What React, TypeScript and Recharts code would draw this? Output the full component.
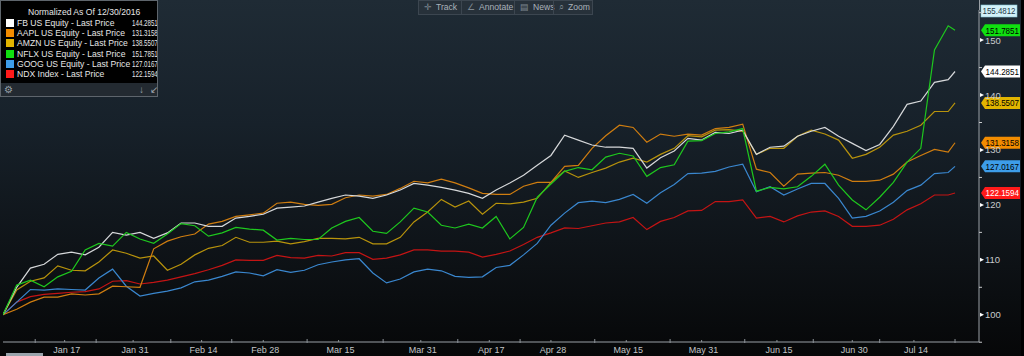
import React from "react";
import { LineChart, Line, XAxis, YAxis, ReferenceLine } from "recharts";

// trading-day index since 30 Dec 2016 (every second session)
const days = [
  0, 2, 4, 6, 8, 10, 12, 14, 16, 18, 20, 22, 24, 26, 28, 30, 32, 34, 36, 38,
  40, 42, 44, 46, 48, 50, 52, 54, 56, 58, 60, 62, 64, 66, 68, 70, 72, 74, 76, 78,
  80, 82, 84, 86, 88, 90, 92, 94, 96, 98, 100, 102, 104, 106, 108, 110, 112, 114, 116, 118,
  120, 122, 124, 126, 128, 130, 132, 134, 136, 138, 139,
];

const fb = [
  100, 105.0, 108.5, 109.2, 111.0, 111.4, 110.9, 112.3, 115.0, 114.5, 115.0, 113.9, 114.9, 116.7, 116.7, 116.1, 116.1, 117.6, 117.9, 118.3,
  119.4, 119.6, 119.8, 120.5, 121.2, 121.8, 121.6, 121.2, 121.8, 122.7, 123.9, 123.6, 123.2, 122.7, 122.1, 121.2, 122.7, 124.0, 125.4, 127.2,
  129.0, 132.7, 131.8, 130.9, 130.5, 130.5, 130.3, 126.7, 128.6, 129.8, 132.1, 131.8, 133.2, 133.0, 133.6, 129.2, 130.5, 130.7, 132.5, 133.4,
  134.1, 132.5, 131.2, 129.9, 131.0, 134.3, 138.3, 138.9, 142.3, 142.8, 144.2851,
];
const aapl = [
  100, 101.0, 102.3, 103.2, 103.2, 103.8, 103.6, 103.8, 105.2, 105.1, 105.0, 112.0, 113.4, 114.2, 114.7, 116.5, 117.0, 117.9, 118.2, 118.5,
  120.3, 120.5, 120.1, 119.9, 120.1, 121.3, 121.8, 121.6, 121.9, 123.0, 124.3, 124.0, 124.7, 124.0, 123.1, 122.1, 121.9, 121.9, 123.4, 124.1,
  124.1, 127.0, 127.2, 130.3, 132.6, 134.5, 134.1, 131.4, 132.9, 132.5, 132.9, 132.7, 133.9, 134.1, 134.7, 126.5, 125.9, 123.4, 125.6, 125.8,
  125.9, 125.4, 124.3, 124.3, 124.5, 125.6, 127.8, 129.0, 130.1, 129.6, 131.3158,
];
const amzn = [
  100, 104.5, 106.1, 106.7, 108.9, 108.1, 108.0, 109.6, 111.8, 111.2, 110.3, 110.7, 108.1, 109.2, 110.9, 112.1, 112.6, 114.1, 113.2, 113.2,
  113.4, 112.9, 113.3, 113.9, 113.9, 113.8, 114.1, 112.9, 112.9, 114.1, 116.9, 118.7, 121.0, 119.6, 120.7, 118.3, 120.3, 120.2, 120.5, 121.2,
  124.1, 126.2, 125.0, 125.9, 126.7, 127.8, 128.5, 127.8, 129.2, 130.3, 132.6, 132.4, 133.6, 133.7, 133.4, 129.2, 130.3, 130.3, 132.5, 133.6,
  132.9, 131.8, 128.5, 129.2, 130.5, 132.7, 133.4, 134.5, 137.0, 137.0, 138.5507,
];
const nflx = [
  100, 105.4, 106.3, 105.1, 106.9, 107.9, 111.8, 113.0, 112.5, 115.0, 113.8, 113.0, 114.7, 116.6, 116.2, 114.3, 114.9, 115.9, 115.6, 115.4,
  113.6, 113.9, 113.7, 113.7, 115.8, 117.0, 117.7, 115.2, 114.8, 116.9, 119.4, 118.7, 116.3, 115.8, 116.5, 115.8, 117.9, 113.8, 115.9, 121.4,
  123.8, 126.1, 126.8, 126.4, 128.7, 129.4, 128.9, 125.2, 126.8, 127.3, 131.6, 131.7, 133.0, 133.3, 133.9, 122.5, 123.2, 122.9, 123.3, 125.2,
  127.4, 123.6, 120.9, 119.1, 121.4, 124.1, 127.8, 130.3, 148.2, 152.6, 151.7851,
];
const goog = [
  100, 102.3, 104.6, 104.5, 104.7, 104.6, 104.5, 106.7, 108.3, 105.2, 103.4, 103.9, 104.3, 104.9, 106.0, 106.3, 107.0, 107.8, 107.6, 107.1,
  108.2, 107.7, 108.1, 109.1, 109.6, 110.0, 110.2, 107.6, 105.8, 106.5, 107.8, 108.3, 108.0, 107.0, 106.8, 106.9, 108.6, 109.0, 110.9, 113.0,
  116.3, 118.5, 120.4, 120.7, 120.4, 121.0, 121.9, 120.3, 122.2, 123.7, 125.7, 125.8, 126.1, 126.9, 127.4, 122.4, 123.3, 121.8, 122.9, 123.9,
  123.9, 121.2, 117.6, 117.9, 118.9, 120.5, 122.6, 123.6, 125.7, 125.9, 127.0167,
];
const ndx = [
  100, 102.3, 103.3, 103.7, 103.9, 104.1, 104.2, 104.7, 106.1, 106.2, 105.6, 105.9, 106.3, 106.9, 107.5, 108.2, 109.0, 110.0, 109.9, 109.9,
  110.8, 110.4, 110.3, 110.8, 110.7, 111.3, 111.3, 110.1, 110.3, 110.9, 111.8, 111.8, 111.6, 111.6, 111.4, 110.5, 111.0, 111.6, 112.8, 114.1,
  114.9, 115.8, 115.7, 116.2, 116.7, 116.9, 117.7, 115.5, 117.0, 117.7, 118.9, 119.0, 120.6, 120.6, 120.9, 117.6, 117.9, 116.9, 118.0, 118.7,
  118.9, 117.9, 116.1, 116.1, 116.3, 117.4, 119.1, 120.2, 121.8, 121.8, 122.1594,
];

const tickDays = [9, 19, 29, 38, 49, 61, 71, 80, 91, 102, 113, 124, 133];
const tickLabels = ["Jan 17", "Jan 31", "Feb 14", "Feb 28", "Mar 15", "Mar 31", "Apr 17", "Apr 28", "May 15", "May 31", "Jun 15", "Jun 30", "Jul 14"];
const sepDays = [4.7, 13.6, 24.5, 33.4, 44.4, 55.5, 66.4, 75.5, 86.4, 97.4, 108.3, 118.3, 128, 139];
const yTicks = [95, 100, 105, 110, 115, 120, 125, 130, 135, 140, 145, 150, 155];
const yMax = 155.4812;

const series = [
  { key: "ndx", name: "NDX Index - Last Price", last: "122.1594", line: "#c41414", box: "#ff1a1a", text: "#fff" },
  { key: "goog", name: "GOOG US Equity - Last Price", last: "127.0167", line: "#3a87cf", box: "#3d9de9", text: "#000" },
  { key: "amzn", name: "AMZN US Equity - Last Price", last: "138.5507", line: "#b8930c", box: "#e2b400", text: "#000" },
  { key: "aapl", name: "AAPL US Equity - Last Price", last: "131.3158", line: "#cf7d10", box: "#f28c00", text: "#000" },
  { key: "fb", name: "FB US Equity - Last Price", last: "144.2851", line: "#d6d8da", box: "#ffffff", text: "#000" },
  { key: "nflx", name: "NFLX US Equity - Last Price", last: "151.7851", line: "#1ec81e", box: "#10e010", text: "#000" },
];
const legendOrder = ["fb", "aapl", "amzn", "nflx", "goog", "ndx"];

const rows = days.map((d, i) => ({
  day: d, fb: fb[i], aapl: aapl[i], amzn: amzn[i], nflx: nflx[i], goog: goog[i], ndx: ndx[i],
}));

const FONT = "'Liberation Sans', Arial, sans-serif";

const XTick = (props: any) => {
  const { x, y, payload } = props;
  const idx = tickDays.indexOf(payload.value);
  if (idx >= 0) {
    return (
      <g>
        <line x1={x} x2={x} y1={y - 2} y2={y} stroke="#8c9298" />
        <text x={x + 2} y={y + 11} textAnchor="middle" fill="#c2c4c6" fontSize={9} fontFamily={FONT}>
          {tickLabels[idx]}
        </text>
      </g>
    );
  }
  return <line x1={x} x2={x} y1={y - 3} y2={y + 1} stroke="#8c9298" />;
};

const YTick = (props: any) => {
  const { x, y, payload } = props;
  const v = payload.value;
  if (v % 10 === 0) {
    return (
      <g>
        <path d={`M${x + 1} ${y - 2} L${x + 5} ${y} L${x + 1} ${y + 2} Z`} fill="#fff" />
        <text x={x + 6} y={y + 3.5} fill="#c8cacc" fontSize={9.5} fontFamily={FONT}>{v}</text>
      </g>
    );
  }
  return <line x1={x} x2={x + 3} y1={y} y2={y} stroke="#c8cacc" />;
};

const Tag = ({ viewBox, s }: any) => {
  const x = viewBox.x + viewBox.width + 2;
  const y = viewBox.y;
  return (
    <g>
      <path d={`M${x} ${y} L${x + 4} ${y - 6} L${x + 39} ${y - 6} L${x + 39} ${y + 6} L${x + 4} ${y + 6} Z`} fill={s.box} />
      <text x={x + 4.5} y={y + 3.3} fill={s.text} fontSize={9} fontFamily={FONT}
        textLength={33.5} lengthAdjust="spacingAndGlyphs">{s.last}</text>
    </g>
  );
};

const TopTag = ({ viewBox }: any) => {
  const x = viewBox.x + viewBox.width + 2;
  const y = viewBox.y + 1;
  return (
    <g>
      <rect x={x} y={y - 6} width={36} height={12} fill="#d2f1f8" stroke="#86c6d8" strokeWidth={0.6} />
      <text x={x + 1.5} y={y + 3.3} fill="#1f3a4a" fontSize={9} fontFamily={FONT}
        textLength={33} lengthAdjust="spacingAndGlyphs">{yMax.toFixed(4)}</text>
    </g>
  );
};

export default function App() {
  const byKey = Object.fromEntries(series.map((s) => [s.key, s]));
  return (
    <div
      style={{
        position: "fixed", left: 0, top: 0, width: 1024, height: 356, overflow: "hidden",
        background: "linear-gradient(180deg, #1f2b35 0%, #17212a 35%, #0d1115 75%, #060708 100%)",
        fontFamily: FONT,
      }}
    >
      <LineChart width={1024} height={356} data={rows} margin={{ top: 10, right: 0, bottom: 0, left: 3 }}>
        <XAxis
          dataKey="day" type="number" domain={[0, 142.5]} allowDataOverflow
          ticks={[...tickDays, ...sepDays]} interval={0} tick={<XTick />}
          tickSize={0} tickMargin={0} tickLine={false} height={14}
          axisLine={{ stroke: "#9aa0a6" }}
        />
        <YAxis
          orientation="right" type="number" domain={[95.04, yMax]} allowDataOverflow
          ticks={yTicks} interval={0} tick={<YTick />} tickSize={0} tickMargin={0}
          tickLine={false} width={45} axisLine={{ stroke: "#9aa0a6" }}
        />
        {series.map((s) => (
          <Line key={s.key} type="linear" dataKey={s.key} stroke={s.line} strokeWidth={1.2}
            dot={false} activeDot={false} isAnimationActive={false} />
        ))}
        <ReferenceLine y={yMax} stroke="none" ifOverflow="visible" label={(p: any) => <TopTag {...p} />} />
        {series.map((s) => (
          <ReferenceLine key={"t" + s.key} y={parseFloat(s.last)} stroke="none" ifOverflow="visible"
            label={(p: any) => <Tag {...p} s={s} />} />
        ))}
      </LineChart>

      <div style={{ position: "absolute", left: 979, top: 0, width: 1, height: 10, background: "#9aa0a6" }} />
      <div style={{ position: "absolute", left: 1021, top: 0, width: 3, height: 356, background: "#000" }} />
      <div style={{ position: "absolute", left: 6, top: 353, width: 37, height: 3, background: "#9aa4ac" }} />

      {/* legend box */}
      <div style={{ position: "absolute", left: 0, top: 0, width: 158, height: 97, background: "#000",
        border: "1px solid #5e656c", boxSizing: "border-box", overflow: "hidden", color: "#e6e6e6", fontSize: 8.6 }}>
        <div style={{ position: "absolute", left: 27, top: 6, whiteSpace: "nowrap" }}>Normalized As Of 12/30/2016</div>
        {legendOrder.map((k, i) => {
          const s = byKey[k];
          return (
            <div key={k} style={{ position: "absolute", left: 0, top: 17 + i * 10.2, height: 10, width: 170, whiteSpace: "nowrap" }}>
              <div style={{ position: "absolute", left: 5, top: 1, width: 8, height: 8, background: s.box }} />
              <div style={{ position: "absolute", left: 16, top: 0, lineHeight: "10px" }}>{s.name}</div>
              <div style={{ position: "absolute", left: 131, top: 0, lineHeight: "10px",
                transform: "scaleX(0.72)", transformOrigin: "left center" }}>{s.last}</div>
            </div>
          );
        })}
        <div style={{ position: "absolute", left: 0, top: 82, width: 158, height: 15, background: "#232a31",
          color: "#9aa2aa", fontSize: 10 }}>
          <span style={{ position: "absolute", left: 3, top: 1 }}>⚙</span>
          <span style={{ position: "absolute", left: 138, top: 1 }}>↓</span>
          <span style={{ position: "absolute", left: 149, top: 1 }}>↙</span>
        </div>
      </div>

      {/* toolbar */}
      <div style={{ position: "absolute", left: 418, top: 0, width: 175, height: 15, background: "#27313a",
        border: "1px solid #3c4650", boxSizing: "border-box", display: "flex", color: "#aab2ba", fontSize: 8.6 }}>
        {[["✛", "Track", 42], ["∠", "Annotate", 53], ["▤", "News", 39], ["⌕", "Zoom", 39]].map(([ic, t, w], i) => (
          <div key={String(t)} style={{ width: w as number, height: 13, lineHeight: "13px", paddingLeft: 5, boxSizing: "border-box",
            borderLeft: i ? "1px solid #3c4650" : "none", whiteSpace: "nowrap" }}>
            <span style={{ color: "#7d8790", marginRight: 4 }}>{ic}</span>{t}
          </div>
        ))}
      </div>
    </div>
  );
}
